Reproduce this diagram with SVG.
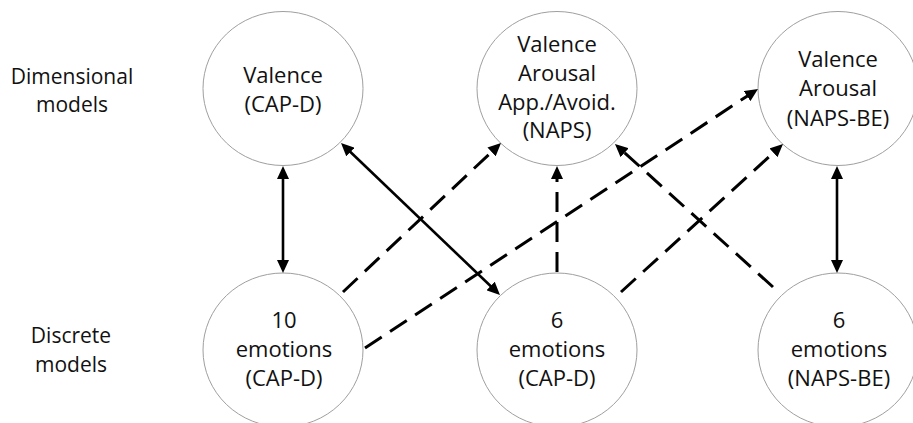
<svg xmlns="http://www.w3.org/2000/svg" width="913" height="423" viewBox="0 0 913 423">
  <style>
    .node ellipse { fill: #ffffff; stroke: #9f9f9f; stroke-width: 1; }
    .node text, .side text { font-family: "Open Sans", "Liberation Sans", sans-serif; font-size: 22px; fill: #111111; text-anchor: middle; }
    .side text { font-size: 21px; }
    .solid { fill: none; stroke: #000000; stroke-width: 2.6; }
    .dashed { fill: none; stroke: #000000; stroke-width: 3; stroke-dasharray: 20 10; }
  </style>
  <defs>
    <marker id="head" viewBox="0 0 13 12" refX="5" refY="6" markerWidth="13" markerHeight="12" markerUnits="userSpaceOnUse" orient="auto-start-reverse">
      <path d="M0,0 L13,6 L0,12 z" fill="#000000"/>
    </marker>
  </defs>

  <rect width="913" height="423" fill="#ffffff"/>

  <!-- row labels -->
  <g class="side" id="label-dimensional">
    <text x="72" y="84">Dimensional</text>
    <text x="72" y="112">models</text>
  </g>
  <g class="side" id="label-discrete">
    <text x="71" y="343">Discrete</text>
    <text x="71" y="372">models</text>
  </g>

  <!-- dimensional models -->
  <g class="node" id="valence-capd">
    <ellipse cx="283" cy="88.5" rx="80" ry="77"/>
    <text x="283" y="83">Valence</text>
    <text x="283" y="112">(CAP-D)</text>
  </g>
  <g class="node" id="naps">
    <ellipse cx="557" cy="88.5" rx="80" ry="77"/>
    <text x="557" y="52">Valence</text>
    <text x="557" y="81">Arousal</text>
    <text x="557" y="110">App./Avoid.</text>
    <text x="557" y="138">(NAPS)</text>
  </g>
  <g class="node" id="naps-be">
    <ellipse cx="838" cy="88.5" rx="80" ry="77"/>
    <text x="838" y="67">Valence</text>
    <text x="838" y="96">Arousal</text>
    <text x="838" y="126">(NAPS-BE)</text>
  </g>

  <!-- discrete models -->
  <g class="node" id="ten-emotions-capd">
    <ellipse cx="283" cy="350" rx="80" ry="77"/>
    <text x="284" y="328">10</text>
    <text x="284" y="357">emotions</text>
    <text x="284" y="386">(CAP-D)</text>
  </g>
  <g class="node" id="six-emotions-capd">
    <ellipse cx="557" cy="350" rx="80" ry="77"/>
    <text x="557" y="328">6</text>
    <text x="557" y="357">emotions</text>
    <text x="557" y="386">(CAP-D)</text>
  </g>
  <g class="node" id="six-emotions-napsbe">
    <ellipse cx="838" cy="350" rx="80" ry="77"/>
    <text x="839" y="328">6</text>
    <text x="839" y="357">emotions</text>
    <text x="839" y="386">(NAPS-BE)</text>
  </g>

  <!-- connectors -->
  <g id="connectors">
    <line class="solid" x1="283" y1="174" x2="283" y2="265" marker-start="url(#head)" marker-end="url(#head)"/>
    <line class="solid" x1="346.8" y1="148.5" x2="494.2" y2="289.5" marker-start="url(#head)" marker-end="url(#head)"/>
    <line class="solid" x1="837" y1="174" x2="837" y2="265" marker-start="url(#head)" marker-end="url(#head)"/>
    <line class="dashed" x1="343" y1="292" x2="495.2" y2="148.5" marker-end="url(#head)"/>
    <line class="dashed" x1="365" y1="348" x2="751.3" y2="93.4" marker-end="url(#head)"/>
    <line class="dashed" x1="557" y1="272" x2="557" y2="174" marker-end="url(#head)"/>
    <line class="dashed" x1="621" y1="292" x2="777.1" y2="149.4" marker-end="url(#head)"/>
    <line class="dashed" x1="773" y1="287" x2="620.9" y2="149.4" marker-end="url(#head)"/>
  </g>
</svg>
